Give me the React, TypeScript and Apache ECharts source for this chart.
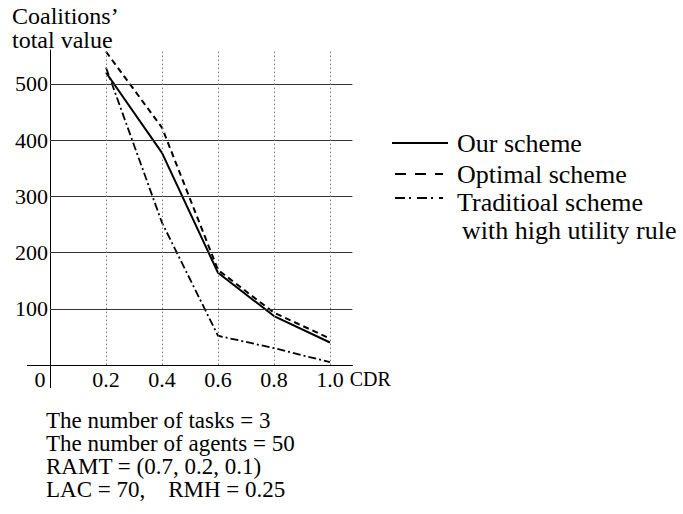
import React, { useEffect, useRef } from 'react';
import * as echarts from 'echarts';

const cdr = [0.2, 0.4, 0.6, 0.8, 1.0];
const ourScheme = [520, 377, 164, 87, 40];
const optimalScheme = [557, 422, 169, 93, 47];
const traditionalScheme = [529, 253, 52, 30, 5];
const yTicks = [100, 200, 300, 400, 500];
const xTicks = [0.2, 0.4, 0.6, 0.8, 1.0];
const xLabelValues = [0, 0.2, 0.4, 0.6, 0.8, 1.0];
const legendNames = ['Our scheme', 'Optimal scheme', 'Traditioal scheme'];
const legendSubline = 'with high utility rule';
const titleLines = ['Coalitions\u2019', 'total value'];
const noteLines = [
  'The number of tasks = 3',
  'The number of agents = 50',
  'RAMT = (0.7, 0.2, 0.1)',
  'LAC = 70,\u00a0\u00a0\u00a0\u00a0RMH = 0.25',
];

const FONT = '"Liberation Serif", "Times New Roman", serif';

export default function App() {
  const ref = useRef<HTMLDivElement>(null);

  useEffect(() => {
    if (!ref.current) return;
    const chart = echarts.init(ref.current, undefined, { renderer: 'svg' });

    const gridMarks: any[] = [
      ...yTicks.map((v) => ({ yAxis: v, lineStyle: { color: '#333', width: 1, type: 'solid' } })),
      ...xTicks.map((v) => ({ xAxis: v, lineStyle: { color: '#777', width: 1, type: [1.5, 2.5] } })),
    ];

    const txt = (text: string, x: number, y: number, size: number) => ({
      type: 'text',
      x,
      y,
      silent: true,
      style: {
        text,
        fill: '#000',
        font: `${size}px ${FONT}`,
        align: 'left',
        verticalAlign: 'middle',
      },
    });

    const seg = (x1: number, x2: number, y: number, dash: number[] | null) => ({
      type: 'line',
      silent: true,
      shape: { x1, y1: y, x2, y2: y },
      style: { stroke: '#000', lineWidth: 2, lineDash: dash || undefined },
    });

    chart.setOption({
      animation: false,
      grid: { left: 50, top: 50, width: 302.4, height: 315, containLabel: false },
      xAxis: {
        type: 'value',
        min: 0,
        max: 1.08,
        interval: 0.2,
        axisLine: { show: true, lineStyle: { color: '#000', width: 1 } },
        axisTick: { show: true, customValues: [0], length: 23, lineStyle: { color: '#000', width: 1 } },
        splitLine: { show: false },
        axisLabel: {
          customValues: xLabelValues,
          margin: 3,
          color: '#000',
          fontFamily: FONT,
          fontSize: 22,
          formatter: (v: number) => (v === 0 ? '{z|0}' : v.toFixed(1)),
          rich: { z: { fontFamily: FONT, fontSize: 22, color: '#000', padding: [0, 20, 0, 0] } },
        },
        name: 'CDR',
        nameLocation: 'end',
        nameGap: -6,
        nameTextStyle: {
          color: '#000',
          fontFamily: FONT,
          fontSize: 20,
          align: 'left',
          verticalAlign: 'top',
          padding: [4, 0, 0, 0],
        },
      },
      yAxis: {
        type: 'value',
        min: 0,
        max: 560,
        interval: 100,
        axisLine: { show: true, lineStyle: { color: '#000', width: 1 } },
        axisTick: { show: true, customValues: [0], length: 23, lineStyle: { color: '#000', width: 1 } },
        splitLine: { show: false },
        axisLabel: {
          customValues: yTicks,
          margin: 2,
          color: '#000',
          fontFamily: FONT,
          fontSize: 22,
          formatter: (v: number) => (yTicks.indexOf(v) >= 0 ? String(v) : ''),
        },
      },
      series: [
        {
          type: 'line',
          name: 'grid',
          data: [],
          silent: true,
          markLine: { silent: true, symbol: ['none', 'none'], label: { show: false }, data: gridMarks },
        },
        {
          type: 'line',
          name: legendNames[2],
          data: cdr.map((x, i) => [x, traditionalScheme[i]]),
          symbol: 'none',
          lineStyle: { color: '#000', width: 1.8, type: [8, 3, 2, 3] },
        },
        {
          type: 'line',
          name: legendNames[1],
          data: cdr.map((x, i) => [x, optimalScheme[i]]),
          symbol: 'none',
          lineStyle: { color: '#000', width: 2, type: [6, 4] },
        },
        {
          type: 'line',
          name: legendNames[0],
          data: cdr.map((x, i) => [x, ourScheme[i]]),
          symbol: 'none',
          lineStyle: { color: '#000', width: 2, type: 'solid' },
        },
      ],
      graphic: [
        txt(titleLines[0], 12, 16, 24),
        txt(titleLines[1], 12, 40, 24),
        seg(392, 448, 143, null),
        seg(395, 443, 174, [11, 9]),
        seg(395, 443, 198, [10, 4, 2, 6]),
        txt(legendNames[0], 457, 143, 26),
        txt(legendNames[1], 457, 174, 26),
        txt(legendNames[2], 457, 202, 26),
        txt(legendSubline, 462, 230, 26),
        ...noteLines.map((t, i) => txt(t, 46, 420 + i * 23.3, 23)),
      ],
    });

    return () => chart.dispose();
  }, []);

  return (
    <div
      ref={ref}
      style={{ position: 'absolute', left: 0, top: 0, width: 683, height: 514, background: '#fff' }}
    />
  );
}
